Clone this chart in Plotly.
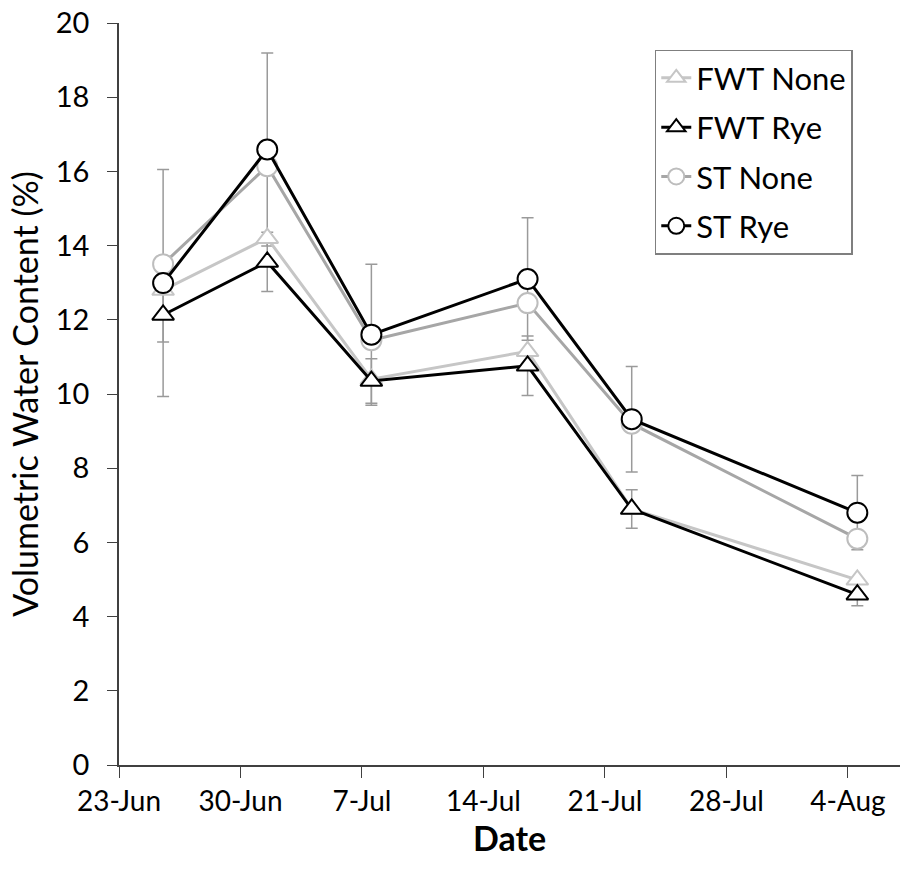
import plotly.graph_objects as go

# ---- data ----
dates = ["2015-06-25 13:00", "2015-07-01 13:00", "2015-07-07 13:00",
         "2015-07-16 13:00", "2015-07-22 13:00", "2015-08-04 13:00"]

fwt_none = [12.8, 14.2, 10.4, 11.15, 6.9, 4.99]
fwt_rye = [12.13, 13.56, 10.35, 10.76, 6.9, 4.59]
st_none = [13.5, 16.14, 11.45, 12.45, 9.2, 6.1]
st_rye = [12.99, 16.59, 11.6, 13.1, 9.32, 6.8]

fwt_rye_err = [0.73, 0.8, 0.6, 0.8, 0.52, 0.3]
st_rye_err = [3.06, 2.6, 1.9, 1.65, 1.42, 1.0]

tick_vals = ["2015-06-23", "2015-06-30", "2015-07-07", "2015-07-14",
             "2015-07-21", "2015-07-28", "2015-08-04"]
tick_text = ["23-Jun", "30-Jun", "7-Jul", "14-Jul", "21-Jul", "28-Jul", "4-Aug"]
y_ticks = [0, 2, 4, 6, 8, 10, 12, 14, 16, 18, 20]

FONT = "Lato, 'Open Sans', sans-serif"
ERR_COLOR = "#9a9a9a"

fig = go.Figure()

# error bars first so they sit behind all lines and markers
for vals, errs in [(fwt_rye, fwt_rye_err), (st_rye, st_rye_err)]:
    fig.add_trace(go.Scatter(
        x=dates, y=vals, mode="markers",
        marker=dict(size=1, color="rgba(0,0,0,0)"),
        error_y=dict(type="data", array=errs, visible=True,
                     color=ERR_COLOR, thickness=1.5, width=6),
        showlegend=False, hoverinfo="skip"))

series = [
    ("FWT None", fwt_none, "#c6c6c6", "#c6c6c6", "triangle-up", 19),
    ("FWT Rye", fwt_rye, "#000000", "#000000", "triangle-up", 19),
    ("ST None", st_none, "#a6a6a6", "#bdbdbd", "circle", 20),
    ("ST Rye", st_rye, "#000000", "#000000", "circle", 20),
]
for i, (name, vals, lc, mc, sym, sz) in enumerate(series):
    fig.add_trace(go.Scatter(
        x=dates, y=vals, mode="lines+markers", name=name,
        legendgroup=f"g{i}",
        line=dict(color=lc, width=3),
        marker=dict(symbol=sym, size=sz, color="white",
                    line=dict(color=mc, width=2))))

fig.update_layout(
    width=907, height=876,
    margin=dict(l=119, r=7, t=23, b=111),
    paper_bgcolor="white", plot_bgcolor="white",
    font=dict(family=FONT, size=28, color="#000000"),
    showlegend=True,
    legend=dict(x=0.686, y=0.964, xanchor="left", yanchor="top",
                bordercolor="#7f7f7f", borderwidth=1.5, bgcolor="white",
                font=dict(family=FONT, size=31, color="#000000"),
                tracegroupgap=6, traceorder="grouped"),
    xaxis=dict(
        type="date", automargin=False,
        range=["2015-06-23", "2015-08-07"],
        tickmode="array", tickvals=tick_vals, ticktext=tick_text,
        ticks="outside", ticklen=11, tickwidth=1.2, tickcolor="#404040",
        showline=True, linecolor="#404040", linewidth=1.5,
        showgrid=False, zeroline=False,
        tickfont=dict(family=FONT, size=28)),
    yaxis=dict(
        range=[0, 20], tickmode="array", tickvals=y_ticks, automargin=False,
        ticks="outside", ticklen=10, tickwidth=1.2, tickcolor="#404040",
        showline=True, linecolor="#404040", linewidth=1.5,
        showgrid=False, zeroline=False,
        ticklabelstandoff=12,
        tickfont=dict(family=FONT, size=29),
        title=dict(text="Volumetric Water Content (%)",
                   font=dict(family=FONT, size=34), standoff=7)),
    annotations=[dict(text="<b>Date</b>", xref="paper", yref="paper",
                      x=0.5, y=-0.098, xanchor="center", yanchor="middle",
                      showarrow=False, font=dict(family=FONT, size=34))],
)

fig.write_html("out.html")
